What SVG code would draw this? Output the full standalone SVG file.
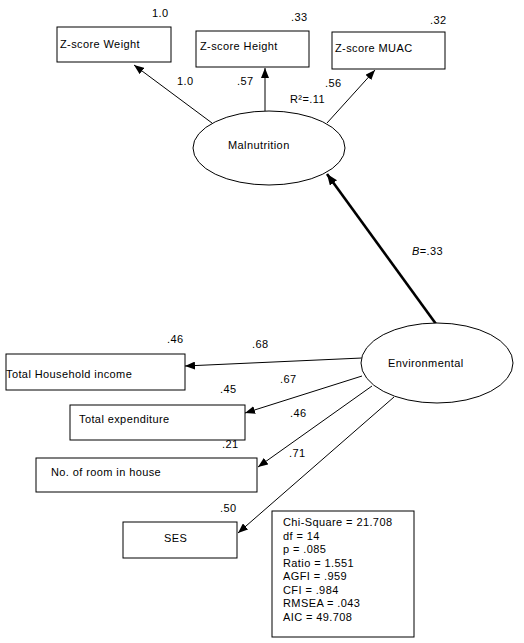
<svg xmlns="http://www.w3.org/2000/svg" width="524" height="643" viewBox="0 0 524 643">
<style>
text{font-family:"Liberation Sans",Arial,sans-serif;font-size:11px;fill:#000;letter-spacing:0.4px}
.box{fill:#fff;stroke:#000;stroke-width:1}
.ell{fill:#fff;stroke:#000;stroke-width:1}
.ln{stroke:#000;stroke-width:1;fill:none;marker-end:url(#ah)}
.thick{stroke:#000;stroke-width:2.6;fill:none;marker-end:url(#ahb)}
</style>
<defs>
<marker id="ah" viewBox="0 0 10 8" refX="10" refY="4" markerWidth="10" markerHeight="8" markerUnits="userSpaceOnUse" orient="auto"><path d="M0,0 L10,4 L0,8 z" fill="#000"/></marker>
<marker id="ahb" viewBox="0 0 10 8" refX="10" refY="4" markerWidth="11" markerHeight="9" markerUnits="userSpaceOnUse" orient="auto"><path d="M0,0 L10,4 L0,8 z" fill="#000"/></marker>
</defs>
<rect width="524" height="643" fill="#fff"/>
<g id="connectors">
<line class="ln" x1="212" y1="123" x2="134" y2="65"/>
<line class="ln" x1="265" y1="111" x2="265" y2="68"/>
<line class="ln" x1="327" y1="123" x2="375" y2="70"/>
<line class="thick" x1="436" y1="324" x2="327" y2="174"/>
<line class="ln" x1="362" y1="358" x2="185" y2="366"/>
<line class="ln" x1="362" y1="376" x2="245" y2="413"/>
<line class="ln" x1="372" y1="386" x2="258" y2="467"/>
<line class="ln" x1="394" y1="397" x2="238" y2="533"/>
<text x="177" y="85">1.0</text>
<text x="237" y="85">.57</text>
<text x="325" y="87">.56</text>
<text x="290" y="103">R²=.11</text>
<text x="412" y="255"><tspan font-style="italic">B</tspan>=.33</text>
<text x="252" y="348">.68</text>
<text x="280" y="383">.67</text>
<text x="290" y="417">.46</text>
<text x="289" y="457">.71</text>
</g>
<g id="zweight">
<rect class="box" x="57" y="27" width="114" height="35"/>
<text x="60" y="48">Z-score Weight</text>
<text x="152" y="17">1.0</text>
</g>
<g id="zheight">
<rect class="box" x="196" y="31" width="113" height="36"/>
<text x="200" y="50">Z-score Height</text>
<text x="291" y="21">.33</text>
</g>
<g id="zmuac">
<rect class="box" x="332" y="32" width="113" height="37"/>
<text x="335" y="52">Z-score MUAC</text>
<text x="430" y="24">.32</text>
</g>
<g id="malnutrition">
<ellipse class="ell" cx="269" cy="148" rx="76" ry="37"/>
<text x="228" y="149">Malnutrition</text>
</g>
<g id="environmental">
<ellipse class="ell" cx="437" cy="363" rx="76" ry="40"/>
<text x="388" y="367">Environmental</text>
</g>
<g id="income">
<rect class="box" x="6" y="354" width="179" height="36"/>
<text x="6" y="378">Total Household income</text>
<text x="167" y="343">.46</text>
</g>
<g id="expenditure">
<rect class="box" x="70" y="405" width="175" height="35"/>
<text x="79" y="423">Total expenditure</text>
<text x="220" y="393">.45</text>
</g>
<g id="rooms">
<rect class="box" x="36" y="458" width="221" height="34"/>
<text x="51" y="476">No. of room in house</text>
<text x="222" y="448">.21</text>
</g>
<g id="ses">
<rect class="box" x="123" y="522" width="114" height="36"/>
<text x="164" y="542">SES</text>
<text x="220" y="512">.50</text>
</g>
<g id="fit">
<rect class="box" x="272" y="511" width="142" height="126"/>
<text x="283" y="526">Chi-Square = 21.708</text>
<text x="283" y="540">df = 14</text>
<text x="283" y="553">p = .085</text>
<text x="283" y="567">Ratio = 1.551</text>
<text x="283" y="580">AGFI = .959</text>
<text x="283" y="594">CFI = .984</text>
<text x="283" y="607">RMSEA = .043</text>
<text x="283" y="621">AIC = 49.708</text>
</g>
</svg>
